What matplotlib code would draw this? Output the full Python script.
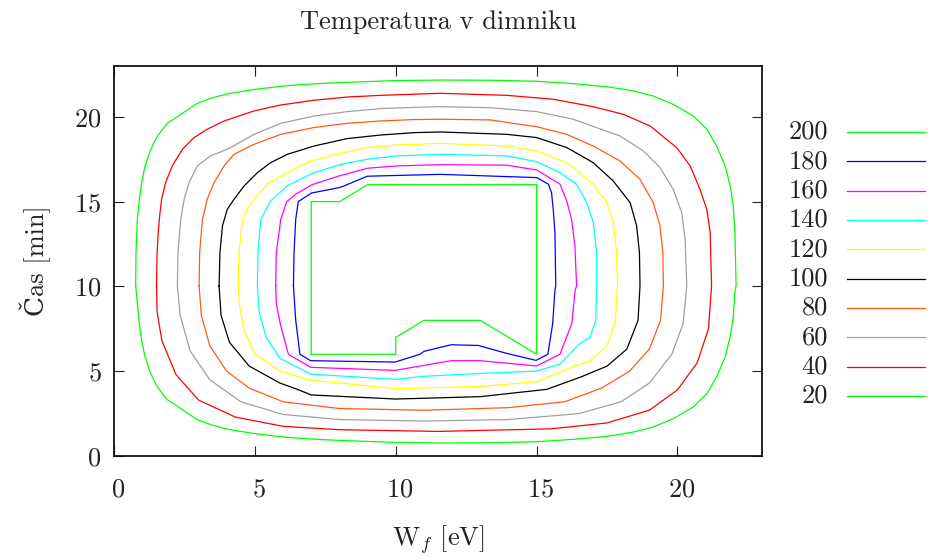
import matplotlib
matplotlib.use("Agg")
import matplotlib.pyplot as plt
from matplotlib.lines import Line2D
from matplotlib.transforms import ScaledTranslation

plt.rcParams['font.family'] = ['cmr10', 'DejaVu Serif']
plt.rcParams['mathtext.fontset'] = 'cm'
plt.rcParams['axes.formatter.use_mathtext'] = True

# contour levels, highest first (key order)
levels = [200, 180, 160, 140, 120, 100, 80, 60, 40, 20]
colors = ['#00ff00', '#0000ff', '#ff00ff', '#00ffff', '#ffff00',
          '#000000', '#ff5a14', '#a0a0a0', '#ff0000', '#00ff00']

# contour lines (W_f [eV], time [min]), each closed
x200 = [7, 10, 10, 11, 13, 15, 15, 9, 8, 7, 7]
y200 = [6, 6, 7, 8, 8, 6, 16, 16, 15, 15, 6]

x180 = [6.37, 6.39, 6.45, 6.54, 7.01, 8.0, 8.11, 8.99, 11.57, 15.0, 15.42, 15.53, 15.59, 15.65, 15.68,
        15.65, 15.57, 15.4, 14.98, 13.94, 12.93, 11.96, 11.0, 10.86, 9.98, 6.98, 6.6, 6.45, 6.37]
y180 = [10.03, 12.0, 13.96, 15.0, 15.51, 15.83, 15.89, 16.5, 16.61, 16.42, 16.03, 15.53, 14.55, 13.18, 10.03,
        9.79, 7.8, 6.0, 5.64, 6.05, 6.52, 6.56, 6.17, 6.0, 5.54, 5.62, 6.0, 8.0, 10.03]

x160 = [5.74, 5.76, 5.92, 6.13, 6.45, 7.04, 8.0, 8.99, 10.06, 11.57, 13.94, 15.0, 15.83, 16.07, 16.24, 16.36, 16.42,
        16.37, 16.25, 15.83, 15.0, 13.0, 11.96, 9.98, 6.98, 6.19, 5.9, 5.76, 5.74]
y160 = [10.03, 12.0, 13.96, 15.0, 15.44, 16.01, 16.52, 16.97, 17.11, 17.18, 17.15, 16.87, 16.03, 15.04, 13.96, 12.39, 10.03,
        9.79, 7.82, 6.0, 5.31, 5.62, 5.62, 5.05, 5.23, 6.0, 7.8, 9.0, 10.03]

x140 = [5.09, 5.11, 5.21, 5.56, 6.15, 7.04, 8.05, 8.99, 10.06, 11.57, 13.94, 15.0, 15.83, 16.42, 16.78, 17.01, 17.13, 17.13,
        17.1, 16.9, 16.54, 15.83, 15.0, 13.0, 11.0, 9.98, 6.98, 5.89, 5.4, 5.15, 5.09]
y140 = [10.03, 12.0, 13.96, 15.04, 15.93, 16.67, 17.2, 17.5, 17.7, 17.79, 17.7, 17.36, 16.71, 16.03, 14.94, 13.77, 12.0, 10.03,
        8.0, 7.0, 6.64, 5.42, 5.01, 4.87, 4.7, 4.52, 4.83, 5.76, 7.0, 8.5, 10.03]

x120 = [4.41, 4.44, 4.56, 4.73, 4.97, 5.44, 6.15, 6.98, 8.05, 8.99, 10.06, 11.57, 13.94, 15.0, 16.07, 17.01, 17.49, 17.72,
        17.84, 17.87, 17.8, 17.5, 16.9, 16.3, 15.0, 13.0, 9.98, 6.96, 5.89, 5.0, 4.6, 4.45, 4.41]
y120 = [10.03, 12.0, 13.96, 14.55, 15.14, 16.03, 16.71, 17.4, 17.85, 18.19, 18.34, 18.44, 18.28, 17.99, 17.3, 16.03, 14.94, 13.77,
        12.0, 10.03, 8.0, 6.5, 5.6, 5.27, 4.38, 4.1, 3.97, 4.48, 5.0, 6.0, 7.5, 9.0, 10.03]

x100 = [3.73, 3.76, 3.85, 4.02, 4.26, 4.62, 5.09, 5.56, 6.15, 7.1, 8.28, 9.47, 10.65, 11.57, 13.94, 15.0, 16.07, 17.01, 17.72,
        18.32, 18.55, 18.65, 18.67, 18.6, 18.2, 17.5, 16.54, 15.36, 13.0, 10.0, 7.0, 6.48, 5.89, 4.8, 4.1, 3.8, 3.73]
y100 = [10.03, 12.0, 13.57, 14.55, 15.14, 15.93, 16.71, 17.3, 17.79, 18.28, 18.72, 18.93, 19.07, 19.11, 18.97, 18.78, 18.19, 17.3, 16.22,
        14.94, 13.57, 12.0, 10.03, 8.0, 6.3, 5.3, 4.64, 3.93, 3.5, 3.36, 3.6, 3.95, 4.3, 5.3, 6.7, 8.3, 10.03]

x80 = [3.02, 3.04, 3.14, 3.31, 3.55, 3.91, 4.26, 4.97, 5.92, 7.1, 8.28, 9.47, 10.65, 11.57, 13.35, 15.0, 16.07, 17.01, 17.96,
       18.67, 19.14, 19.38, 19.48, 19.5, 19.4, 19.0, 18.3, 17.3, 16.0, 14.0, 11.0, 8.0, 6.0, 4.8, 4.0, 3.4, 3.1, 3.02]
y80 = [10.03, 12.0, 13.96, 15.14, 16.12, 17.11, 17.79, 18.38, 18.97, 19.37, 19.62, 19.76, 19.84, 19.86, 19.82, 19.42, 18.97, 18.28, 17.4,
       16.32, 14.94, 13.57, 12.0, 10.03, 8.0, 6.3, 5.0, 4.0, 3.2, 2.85, 2.7, 2.8, 3.2, 4.0, 5.0, 6.5, 8.3, 10.03]

x60 = [2.25, 2.27, 2.37, 2.49, 2.66, 2.96, 3.43, 4.08, 4.97, 5.92, 7.1, 8.28, 9.47, 10.65, 11.57, 13.35, 15.0, 16.3, 17.96,
       18.79, 19.38, 19.85, 20.15, 20.27, 20.33, 20.2, 19.8, 19.0, 18.0, 16.5, 14.0, 11.0, 8.0, 6.0, 4.5, 3.4, 2.7, 2.35, 2.25]
y60 = [10.03, 12.0, 13.96, 15.14, 16.12, 17.11, 17.7, 18.13, 18.97, 19.62, 20.05, 20.31, 20.49, 20.56, 20.6, 20.54, 20.31, 19.86, 18.87,
       17.99, 17.01, 15.73, 14.36, 12.78, 10.03, 7.8, 6.0, 4.3, 3.2, 2.5, 2.15, 2.06, 2.15, 2.45, 3.2, 4.5, 6.2, 8.3, 10.03]

x40 = [1.51, 1.53, 1.57, 1.62, 1.69, 1.83, 2.07, 2.43, 2.84, 3.31, 3.91, 4.97, 5.92, 7.1, 8.28, 9.47, 11.57, 13.94, 15.59, 17.01,
       18.08, 19.03, 19.97, 20.45, 20.8, 21.04, 21.16, 21.21, 21.1, 20.7, 20.0, 19.0, 17.5, 15.5, 11.5, 8.0, 6.0, 4.3, 3.0, 2.2, 1.7, 1.53, 1.51]
y40 = [10.03, 12.0, 13.18, 14.16, 15.14, 16.12, 17.11, 18.09, 18.78, 19.27, 19.76, 20.35, 20.7, 20.98, 21.17, 21.27, 21.39, 21.27, 21.04, 20.6,
       20.15, 19.46, 18.19, 17.11, 15.73, 14.55, 13.18, 10.03, 7.5, 5.5, 3.9, 2.7, 1.95, 1.6, 1.45, 1.55, 1.75, 2.3, 3.3, 4.8, 6.8, 8.5, 10.03]

x20 = [0.77, 0.78, 0.83, 0.89, 0.97, 1.09, 1.28, 1.54, 1.89, 2.25, 2.96, 3.43, 4.0, 4.99, 6.0, 6.99, 8.0, 8.99, 10.0, 11.57,
       13.35, 15.0, 16.3, 17.49, 18.43, 19.14, 19.85, 20.56, 21.04, 21.39, 21.69, 21.87, 21.98, 22.04, 22.08,
       22.04, 21.98, 21.87, 21.69, 21.39, 21.04, 20.56, 19.85, 19.14, 18.43, 17.49, 16.3, 15.0, 13.35, 11.57, 10.0, 8.99,
       8.0, 6.99, 6.0, 4.99, 4.0, 3.43, 2.96, 2.25, 1.89, 1.54, 1.28, 1.09, 0.97, 0.89, 0.83, 0.77]
y20 = [10.03, 12.0, 13.96, 15.0, 16.01, 17.01, 17.99, 18.87, 19.62, 20.01, 20.8, 21.09, 21.35, 21.62, 21.82, 21.94, 22.02, 22.08, 22.14, 22.17,
       22.16, 22.1, 21.96, 21.78, 21.53, 21.23, 20.74, 20.05, 19.27, 18.28, 17.11, 15.93, 14.75, 13.18, 10.03,
       9.76, 8.19, 7.01, 5.83, 4.66, 3.67, 2.89, 2.2, 1.71, 1.41, 1.16, 0.98, 0.84, 0.78, 0.77, 0.8, 0.86,
       0.92, 1.0, 1.12, 1.32, 1.59, 1.85, 2.14, 2.93, 3.32, 4.07, 4.95, 5.93, 6.93, 7.94, 8.98, 10.03]

lines_x = [x200, x180, x160, x140, x120, x100, x80, x60, x40, x20]
lines_y = [y200, y180, y160, y140, y120, y100, y80, y60, y40, y20]

W, H = 929, 558
fig = plt.figure(figsize=(W / 100, H / 100), dpi=100)
ax = fig.add_axes([114 / W, 1 - 456 / H, 648 / W, 390 / H])

for xs, ys, c in zip(lines_x, lines_y, colors):
    ax.plot(xs, ys, color=c, lw=0.9)

ax.set_xlim(0, 23)
ax.set_ylim(0, 23)
ax.set_xticks([0, 5, 10, 15, 20])
ax.set_yticks([0, 5, 10, 15, 20])
ax.tick_params(direction='in', length=7, width=0.8, top=True, right=True,
               labelsize=19, colors='#222222', pad=9)
ax.tick_params(axis='x', pad=16)
for sp in ax.spines.values():
    sp.set_linewidth(1.3)
    sp.set_color('#111111')

# shift x tick labels slightly right
off = ScaledTranslation(4 / 100, 0, fig.dpi_scale_trans)
for lab in ax.get_xticklabels():
    lab.set_transform(lab.get_transform() + off)

ax.set_xlabel('W$_f$ [eV]', fontsize=19, color='#222222', labelpad=15)
ax.set_ylabel('Čas [min]', fontsize=19, color='#222222', labelpad=17)
fig.text(438 / W, 1 - 22 / H, 'Temperatura v dimniku', ha='center', va='center',
         fontsize=19, color='#222222')

# key on the right: label, then a line sample
for i, (lev, c) in enumerate(zip(levels, colors)):
    yk = 1 - (132 + i * 29.33) / H
    fig.text(828 / W, yk, str(lev), ha='right', va='center', fontsize=19, color='#222222')
    fig.add_artist(Line2D([847 / W, 925 / W], [yk, yk], color=c, lw=0.9))

fig.savefig('out.png', dpi=100)
